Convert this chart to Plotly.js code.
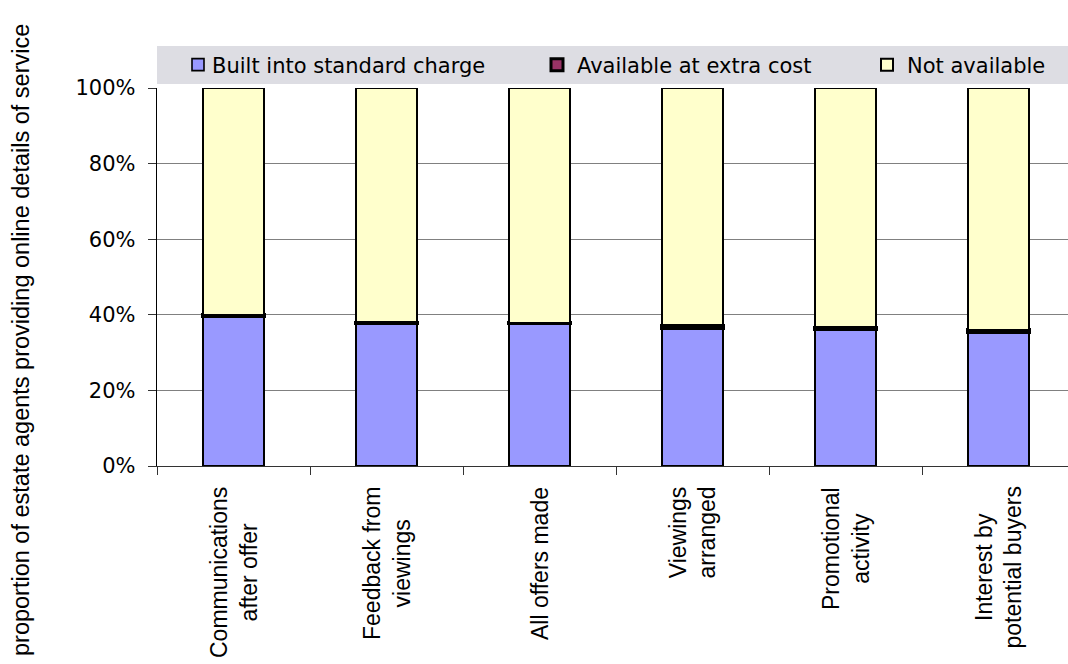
<!DOCTYPE html>
<html>
<head>
<meta charset="utf-8">
<script src="https://cdn.plot.ly/plotly-3.0.1.min.js"></script>
<style>
  html, body { margin: 0; padding: 0; background: #ffffff; }
  #chart { width: 1068px; height: 664px; }
  /* pull each legend swatch a little closer to its label, with a fine outline */
  #chart .legend .legendsymbols { transform: translate(6px, 0); }
  #chart .legend .legendpoints path { stroke-width: 1.6px !important; }
</style>
</head>
<body>
<div id="chart"></div>
<script>
// Services shown online by estate agents, split by how each is charged
var categories = [
  'Communications<br>after offer',
  'Feedback from<br>viewings',
  'All offers made',
  'Viewings<br>arranged',
  'Promotional<br>activity',
  'Interest by<br>potential buyers'
];
var builtIn   = [39.5, 37.6, 37.7, 36.4, 36.1, 35.3];
var extraCost = [0.5, 0.4, 0.2, 0.8, 0.6, 0.8];
var notAvail  = [60.0, 62.0, 62.1, 62.8, 63.3, 63.9];
var seriesNames = ['Built into standard charge', 'Available at extra cost', 'Not available'];
var yTickVals = [0, 20, 40, 60, 80, 100];
var yTickText = ['0%', '20%', '40%', '60%', '80%', '100%'];
var yTitle = 'proportion of estate agents providing online details of service';

var W = 1068, H = 664;
var plotL = 157, plotT = 88, plotB = 466;
var plotW = W - plotL, plotH = plotB - plotT;
var bandPx = 153;   // width of one category band
function px(x) { return (x - plotL) / plotW; }
function py(y) { return (plotB - y) / plotH; }

var FONT = 'Liberation Sans, Arial, sans-serif';
var FONT_WIDE = 'DejaVu Sans, Verdana, sans-serif';
var xs = categories.map(function (c, i) { return i; });
var bounds = [-0.5].concat(xs.map(function (i) { return i + 0.5; }));

function barTrace(vals, name, color, legendId, lineW) {
  return {
    type: 'bar', x: xs, y: vals, name: name, legend: legendId,
    width: 0.405,
    marker: { color: color, line: { color: '#000000', width: lineW } },
    hoverinfo: 'skip'
  };
}

var data = [
  barTrace(builtIn, seriesNames[0], '#9999FF', 'legend', 2),
  barTrace(extraCost, seriesNames[1], '#993366', 'legend2', 3),
  barTrace(notAvail, seriesNames[2], '#FFFFCC', 'legend3', 2)
];

function legendAt(x) {
  return {
    orientation: 'h', x: px(x), xanchor: 'left', y: py(65), yanchor: 'middle',
    bgcolor: 'rgba(0,0,0,0)', borderwidth: 0,
    font: { family: FONT_WIDE, size: 21, color: '#000000' },
    itemwidth: 30, itemclick: false, itemdoubleclick: false
  };
}

var annotations = categories.map(function (c, i) {
  return {
    x: i, xref: 'x', y: py(485), yref: 'paper',
    text: c, showarrow: false, textangle: -90,
    xanchor: 'center', yanchor: 'top', align: 'center',
    font: { family: FONT, size: 23, color: '#000000' }
  };
});
annotations.push({
  x: px(21), xref: 'paper', y: py(340), yref: 'paper',
  text: yTitle, showarrow: false, textangle: -90,
  xanchor: 'center', yanchor: 'middle',
  font: { family: FONT, size: 23.5, color: '#000000' }
});

var layout = {
  width: W, height: H,
  margin: { l: plotL, r: 0, t: plotT, b: H - plotB, pad: 0 },
  paper_bgcolor: '#ffffff', plot_bgcolor: '#ffffff',
  barmode: 'stack',
  showlegend: true,
  legend: legendAt(172),
  legend2: legendAt(537),
  legend3: legendAt(867),
  xaxis: {
    type: 'linear', range: [-0.5, -0.5 + plotW / bandPx],
    tickmode: 'array', tickvals: bounds,
    showticklabels: false,
    ticks: 'outside', ticklen: 8, tickcolor: '#333333', tickwidth: 1,
    showline: true, linecolor: '#333333', linewidth: 1.3,
    showgrid: false, zeroline: false, fixedrange: true
  },
  yaxis: {
    range: [0, 100], tickmode: 'array',
    tickvals: yTickVals, ticktext: yTickText,
    ticks: 'outside', ticklen: 8, tickcolor: '#333333', tickwidth: 1,
    ticklabelstandoff: 8,
    tickfont: { family: FONT_WIDE, size: 21, color: '#000000' },
    showline: true, linecolor: '#000000', linewidth: 1.3,
    showgrid: true, gridcolor: '#808080', gridwidth: 1,
    zeroline: false, fixedrange: true
  },
  shapes: [{
    type: 'rect', xref: 'paper', yref: 'paper',
    x0: px(157), x1: px(1068), y0: py(84), y1: py(46),
    fillcolor: '#DDDDE3', line: { width: 0 }, layer: 'below'
  }],
  annotations: annotations
};

Plotly.newPlot('chart', data, layout, { displayModeBar: false, staticPlot: true });
</script>
</body>
</html>
